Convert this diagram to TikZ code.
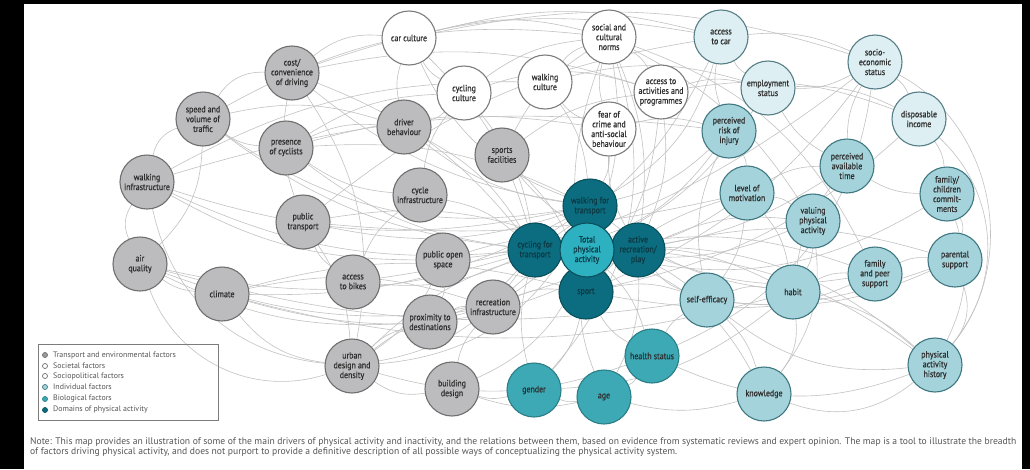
\documentclass[tikz,border=0pt]{standalone}
\usepackage{fontspec}
\setmainfont{PT Sans}
\newfontfamily\nodefont{PT Sans}[FakeStretch=0.86, FakeBold=0.6]
\usetikzlibrary{backgrounds}
\definecolor{edgec}{HTML}{C2C2C2}
\definecolor{grayfill}{HTML}{BCBCBE}
\definecolor{graydraw}{HTML}{6F6F6F}
\definecolor{whitedraw}{HTML}{7C7C7C}
\definecolor{socfill}{HTML}{DDEFF3}
\definecolor{socdraw}{HTML}{577E86}
\definecolor{indfill}{HTML}{A5D3DB}
\definecolor{inddraw}{HTML}{3F7880}
\definecolor{biofill}{HTML}{3CA9B4}
\definecolor{biodraw}{HTML}{2B7D86}
\definecolor{domfill}{HTML}{0B6D7F}
\definecolor{domdraw}{HTML}{0A4F5C}
\definecolor{totfill}{HTML}{2DB1C0}
\definecolor{txt}{HTML}{2E2E2E}
\definecolor{domtxt}{HTML}{0B3944}
\definecolor{notetxt}{HTML}{555555}
\pgfdeclarelayer{canvas}
\pgfdeclarelayer{edges}
\pgfsetlayers{canvas,edges,main}
\tikzset{
  factor/.style={circle, minimum size=54pt, inner sep=0pt, line width=1.1pt, align=center,
    text=txt, font=\nodefont\fontsize{9.2}{9.8}\selectfont},
  tgray/.style={factor, fill=grayfill, draw=graydraw},
  twhite/.style={factor, fill=white, draw=whitedraw},
  tsoc/.style={factor, fill=socfill, draw=socdraw},
  tind/.style={factor, fill=indfill, draw=inddraw},
  tbio/.style={factor, fill=biofill, draw=biodraw},
  tdom/.style={factor, fill=domfill, draw=domdraw, text=domtxt},
  ttot/.style={factor, fill=totfill, draw=domdraw, text=domtxt},
  edge/.style={draw=edgec, line width=0.6pt},
  bullet/.style={circle, minimum size=5pt, inner sep=0pt, line width=0.7pt},
  legtext/.style={anchor=west, inner sep=0pt, text=notetxt, font=\fontsize{7.9}{8}\selectfont},
}
\begin{document}
\begin{tikzpicture}[x=1pt,y=-1pt]
\useasboundingbox (0,0) rectangle (1030,469);
\begin{pgfonlayer}{canvas}
\fill[black] (0,0) rectangle (1030,469);
\fill[white] (24,4) rectangle (1022,469);
\end{pgfonlayer}

% transport and environmental factors
\node[tgray] (cost) at (292,73) {cost/\\convenience\\of driving};
\node[tgray] (speed) at (203,119) {speed and\\volume of\\traffic};
\node[tgray] (presence) at (286,148) {presence\\of cyclists};
\node[tgray] (walkinf) at (147,182) {walking\\infrastructure};
\node[tgray] (pubtr) at (303,222) {public\\transport};
\node[tgray] (air) at (140,264) {air\\quality};
\node[tgray] (climate) at (222,294) {climate};
\node[tgray] (bikes) at (353,282) {access\\to bikes};
\node[tgray] (urban) at (352,366) {urban\\design and\\density};
\node[tgray] (driver) at (404,127) {driver\\behaviour};
\node[tgray] (cycinf) at (420,195) {cycle\\infrastructure};
\node[tgray] (sportsf) at (502,155) {sports\\facilities};
\node[tgray] (openspace) at (443,260) {public open\\space};
\node[tgray] (proximity) at (430,322) {proximity to\\destinations};
\node[tgray] (recinf) at (493,307) {recreation\\infrastructure};
\node[tgray] (building) at (452,389) {building\\design};

% societal factors
\node[twhite] (carcult) at (409,38) {car culture};
\node[twhite] (cyccult) at (464,93) {cycling\\culture};
\node[twhite] (walkcult) at (545,82) {walking\\culture};
\node[twhite] (norms) at (609,37) {social and\\cultural\\norms};
\node[twhite] (access) at (661,92) {access to\\activities and\\programmes};
\node[twhite] (fear) at (609,129) {fear of\\crime and\\anti-social\\behaviour};

% sociopolitical factors
\node[tsoc] (car) at (721,37) {access\\to car};
\node[tsoc] (employ) at (768,88) {employment\\status};
\node[tsoc] (ses) at (875,62) {socio-\\economic\\status};
\node[tsoc] (income) at (919,119) {disposable\\income};

% individual factors
\node[tind] (risk) at (729,131) {perceived\\risk of\\injury};
\node[tind] (time) at (847,166) {perceived\\available\\time};
\node[tind] (motiv) at (747,193) {level of\\motivation};
\node[tind] (famcom) at (947,194) {family/\\children\\commit-\\ments};
\node[tind] (valuing) at (813,221) {valuing\\physical\\activity};
\node[tind] (parental) at (955,260) {parental\\support};
\node[tind] (peer) at (875,274) {family\\and peer\\support};
\node[tind] (habit) at (793,292) {habit};
\node[tind] (selfeff) at (707,300) {self-efficacy};
\node[tind] (pahist) at (935,365) {physical\\activity\\history};
\node[tind] (knowledge) at (764,394) {knowledge};

% biological factors
\node[tbio] (health) at (652,356) {health status};
\node[tbio] (gender) at (534,390) {gender};
\node[tbio] (age) at (604,397) {age};

% domains of physical activity
\node[tdom] (wft) at (590,206) {walking for\\transport};
\node[tdom] (cft) at (535,250) {cycling for\\transport};
\node[tdom] (arp) at (638,250) {active\\recreation/\\play};
\node[tdom] (sport) at (586,292) {sport};
\node[ttot] (total) at (587,250) {Total\\physical\\activity};

\begin{pgfonlayer}{edges}
\foreach \a/\b/\c [evaluate=\c as \bb using 1.45*\c] in {
 walkinf/wft/-10, walkinf/cft/-10, speed/cft/-10, speed/wft/-15, cost/wft/-10, cost/cft/10,
 presence/cft/-10, presence/wft/10, pubtr/wft/-10, pubtr/total/10, air/cft/-10, air/arp/-15,
 climate/wft/-10, climate/arp/-15, climate/sport/10, bikes/cft/-10, urban/cft/-15, urban/wft/-20,
 urban/arp/15, driver/cft/10, driver/wft/-10, cycinf/cft/10, sportsf/sport/10, sportsf/arp/-10,
 openspace/arp/10, openspace/wft/-10, proximity/wft/-15, proximity/cft/-10, recinf/arp/15,
 recinf/sport/10, building/wft/-20, carcult/wft/-15, carcult/cft/10, cyccult/cft/10, walkcult/wft/10,
 norms/total/10, norms/sport/-10, norms/arp/10, access/sport/10, access/arp/10, fear/wft/10,
 fear/arp/-10, car/wft/15, car/cft/10, employ/total/10, ses/sport/10, income/sport/10, risk/cft/15,
 risk/wft/10, time/total/10, motiv/total/10, motiv/sport/-10, famcom/total/15, valuing/total/10,
 valuing/arp/-10, parental/arp/-10, parental/sport/10, peer/total/-10, peer/arp/10, habit/total/-10,
 habit/wft/10, selfeff/total/-10, selfeff/arp/10, selfeff/sport/-10, pahist/total/-15,
 knowledge/total/-15, health/total/-10, health/sport/10, gender/sport/-10, gender/cft/10,
 age/total/10, age/arp/-10, pahist/arp/-10,
 walkinf/speed/20, speed/cost/20, cost/carcult/15, air/walkinf/20, air/urban/-30, walkinf/urban/-25,
 air/climate/-10, climate/urban/-15, speed/driver/10, speed/presence/-10, speed/air/15, cost/car/10,
 cost/pubtr/-10, cost/urban/15, presence/driver/10, presence/cyccult/10, presence/cycinf/-10,
 walkinf/walkcult/10, walkinf/openspace/-10, pubtr/urban/10, pubtr/car/10, pubtr/bikes/-10,
 bikes/ses/-10, bikes/cycinf/10, urban/proximity/10, urban/openspace/-10, urban/building/-15,
 urban/recinf/10, driver/carcult/10, driver/cyccult/-10, cycinf/cyccult/10, sportsf/access/10,
 sportsf/norms/10, carcult/norms/10, carcult/cyccult/-10, carcult/car/10, cyccult/norms/10,
 walkcult/norms/10, walkcult/fear/-10, norms/gender/20, norms/valuing/10, norms/peer/15,
 norms/access/10, norms/fear/-10, ses/car/-10, ses/employ/10, ses/income/10, ses/time/-10,
 ses/pahist/35, ses/health/20, employ/time/-10, employ/income/10, employ/car/10, income/access/-10,
 income/famcom/10, income/pahist/30, time/famcom/-10, time/motiv/-10, famcom/parental/15,
 famcom/pahist/15, valuing/habit/10, valuing/motiv/-10, valuing/knowledge/15, parental/peer/-10,
 parental/pahist/20, parental/selfeff/10, habit/pahist/10, habit/knowledge/15, habit/selfeff/-10,
 selfeff/pahist/-15, selfeff/knowledge/10, knowledge/pahist/-20, health/age/10, health/selfeff/10,
 health/pahist/-15, gender/age/-10, risk/motiv/10, risk/car/10, fear/risk/10, access/employ/10,
 recinf/proximity/-10, openspace/proximity/10, building/recinf/10, building/gender/-10,
 climate/recinf/10, air/proximity/-10, peer/selfeff/10, peer/habit/-10, time/habit/-10,
 motiv/selfeff/10, motiv/habit/10,
 carcult/ses/10, walkcult/employ/10, cyccult/access/12, speed/norms/12, walkinf/risk/8,
 air/selfeff/-8, cost/access/10, presence/fear/8, pubtr/motiv/-6, climate/habit/-10,
 urban/health/-12, building/age/-10, knowledge/age/10, gender/habit/-12, risk/selfeff/-12}
 \draw[edge] (\a) to[bend left=\bb] (\b);
\end{pgfonlayer}

% legend
\node[draw=whitedraw, line width=0.8pt, minimum width=180pt, minimum height=76pt, inner sep=0pt, anchor=north west] (legend) at (38,344) {};
\node[bullet, fill=graydraw!70, draw=graydraw] (b1) at (45,355) {};
\node[bullet, fill=white, draw=graydraw] (b2) at (45,366) {};
\node[bullet, fill=white, draw=graydraw] (b3) at (45,376) {};
\node[bullet, fill=indfill, draw=inddraw] (b4) at (45,387) {};
\node[bullet, fill=biofill, draw=biodraw] (b5) at (45,399) {};
\node[bullet, fill=domfill, draw=domdraw] (b6) at (45,410) {};
\node[legtext] (l1) at (53,355) {Transport and environmental factors};
\node[legtext] (l2) at (53,366) {Societal factors};
\node[legtext] (l3) at (53,376) {Sociopolitical factors};
\node[legtext] (l4) at (53,387) {Individual factors};
\node[legtext] (l5) at (53,399) {Biological factors};
\node[legtext] (l6) at (53,410) {Domains of physical activity};

% note
\node[anchor=west, inner sep=0pt, text=notetxt, font=\fontsize{9.6}{10}\selectfont] (note1) at (30,442) {Note: This map provides an illustration of some of the main drivers of physical activity and inactivity, and the relations between them, based on evidence from systematic reviews and expert opinion. The map is a tool to illustrate the breadth};
\node[anchor=west, inner sep=0pt, text=notetxt, font=\fontsize{9.6}{10}\selectfont] (note2) at (30,452.5) {of factors driving physical activity, and does not purport to provide a definitive description of all possible ways of conceptualizing the physical activity system.};
\end{tikzpicture}
\end{document}
